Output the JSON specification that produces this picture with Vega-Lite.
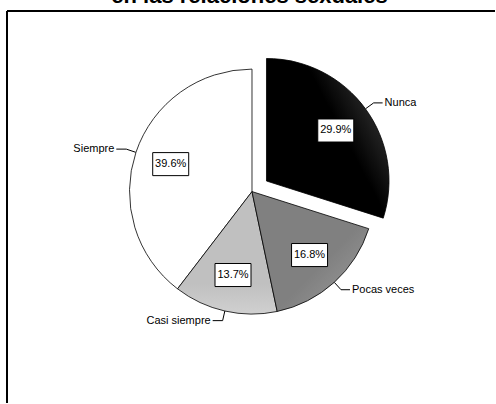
{
  "$schema": "https://vega.github.io/schema/vega-lite/v6.json",
  "width": 496,
  "height": 404,
  "autosize": {"type": "fit", "contains": "padding"},
  "padding": {"left": 6, "top": -15, "right": 0, "bottom": 0},
  "background": "white",
  "config": {"view": {"stroke": null}, "font": "Liberation Sans"},
  "title": {"text": "en las relaciones sexuales", "font": "Liberation Sans", "fontSize": 22, "fontWeight": "bold", "color": "black", "anchor": "middle", "frame": "group", "baseline": "alphabetic", "offset": -15, "dx": -1.5},
  "data": {"values": [
    {"category": "Nunca", "value": 29.9, "order": 1},
    {"category": "Pocas veces", "value": 16.8, "order": 2},
    {"category": "Casi siempre", "value": 13.7, "order": 3},
    {"category": "Siempre", "value": 39.6, "order": 4}
  ]},
  "transform": [
    {"stack": "value", "groupby": [], "sort": [{"field": "order", "order": "ascending"}], "as": ["t0", "t1"]},
    {"calculate": "(datum.t0+datum.t1)*PI/100", "as": "mid"},
    {"calculate": "sin(datum.mid)", "as": "sx"},
    {"calculate": "cos(datum.mid)", "as": "cy"},
    {"calculate": "datum.category==='Nunca'?18:0", "as": "ex"},
    {"calculate": "datum.ex*datum.sx", "as": "ox"},
    {"calculate": "datum.ex*datum.cy", "as": "oy"},
    {"calculate": "datum.ox+86*datum.sx", "as": "bx"},
    {"calculate": "datum.oy+86*datum.cy", "as": "by"},
    {"calculate": "datum.ox+123*datum.sx", "as": "p0x"},
    {"calculate": "datum.oy+123*datum.cy", "as": "p0y"},
    {"calculate": "datum.ox+133*datum.sx", "as": "p1x"},
    {"calculate": "datum.oy+133*datum.cy", "as": "p1y"},
    {"calculate": "datum.p1x+(datum.sx>0?9:-10)", "as": "p2x"},
    {"calculate": "datum.p2x+(datum.sx>0?2:-2)", "as": "tx"},
    {"calculate": "format(datum.value,'.1f')+'%'", "as": "pct"}
  ],
  "layer": [
    {
      "mark": {"type": "rule", "color": "black", "strokeWidth": 2},
      "encoding": {
        "x": {"datum": -245.5, "type": "quantitative", "scale": {"domain": [-245.5, 243.5], "nice": false, "zero": false}, "axis": null},
        "x2": {"datum": 243.5},
        "y": {"datum": 181.5, "type": "quantitative", "scale": {"domain": [-212.5, 181.5], "nice": false, "zero": false}, "axis": null}
      }
    },
    {
      "mark": {"type": "rule", "color": "black", "strokeWidth": 2},
      "encoding": {
        "x": {"datum": -245.5, "type": "quantitative"},
        "y": {"datum": -212.5, "type": "quantitative"},
        "y2": {"datum": 181.5}
      }
    },
    {
      "transform": [{"filter": "datum.category==='Siempre'"}],
      "mark": {"type": "arc", "radius": 122.5, "stroke": "black", "strokeWidth": 0.8, "fill": "#ffffff"},
      "encoding": {
        "theta": {"field": "t0", "type": "quantitative", "scale": {"domain": [0, 100]}},
        "theta2": {"field": "t1"},
        "x": {"field": "ox", "type": "quantitative"},
        "y": {"field": "oy", "type": "quantitative"}
      }
    },
    {
      "transform": [{"filter": "datum.category==='Casi siempre'"}],
      "mark": {"type": "arc", "radius": 122.5, "stroke": "black", "strokeWidth": 0.8,
        "fill": {"gradient": "linear", "x1": 0.5, "y1": 0, "x2": 0.5, "y2": 1, "stops": [{"offset": 0, "color": "#c0c0c0"}, {"offset": 0.75, "color": "#c0c0c0"}, {"offset": 1, "color": "#d0d0d0"}]}},
      "encoding": {
        "theta": {"field": "t0", "type": "quantitative"},
        "theta2": {"field": "t1"},
        "x": {"field": "ox", "type": "quantitative"},
        "y": {"field": "oy", "type": "quantitative"}
      }
    },
    {
      "transform": [{"filter": "datum.category==='Pocas veces'"}],
      "mark": {"type": "arc", "radius": 122.5, "stroke": "black", "strokeWidth": 0.8,
        "fill": {"gradient": "linear", "x1": 0, "y1": 0, "x2": 1, "y2": 1, "stops": [{"offset": 0, "color": "#808080"}, {"offset": 0.6, "color": "#808080"}, {"offset": 1, "color": "#a0a0a0"}]}},
      "encoding": {
        "theta": {"field": "t0", "type": "quantitative"},
        "theta2": {"field": "t1"},
        "x": {"field": "ox", "type": "quantitative"},
        "y": {"field": "oy", "type": "quantitative"}
      }
    },
    {
      "transform": [{"filter": "datum.category==='Nunca'"}],
      "mark": {"type": "arc", "radius": 122.5, "stroke": "#000000", "strokeWidth": 0.8,
        "fill": {"gradient": "linear", "x1": 0.2, "y1": 0.8, "x2": 1, "y2": 0.25, "stops": [{"offset": 0, "color": "#000000"}, {"offset": 0.55, "color": "#000000"}, {"offset": 1, "color": "#3a3a3a"}]}},
      "encoding": {
        "theta": {"field": "t0", "type": "quantitative"},
        "theta2": {"field": "t1"},
        "x": {"field": "ox", "type": "quantitative"},
        "y": {"field": "oy", "type": "quantitative"}
      }
    },
    {
      "mark": {"type": "rule", "color": "black", "strokeWidth": 1},
      "encoding": {
        "x": {"field": "p0x", "type": "quantitative"},
        "y": {"field": "p0y", "type": "quantitative"},
        "x2": {"field": "p1x"},
        "y2": {"field": "p1y"}
      }
    },
    {
      "mark": {"type": "rule", "color": "black", "strokeWidth": 1},
      "encoding": {
        "x": {"field": "p1x", "type": "quantitative"},
        "y": {"field": "p1y", "type": "quantitative"},
        "x2": {"field": "p2x"},
        "y2": {"field": "p1y"}
      }
    },
    {
      "transform": [{"filter": "datum.sx>0"}],
      "mark": {"type": "text", "align": "left", "baseline": "middle", "fontSize": 11, "font": "Liberation Sans", "color": "black"},
      "encoding": {
        "x": {"field": "tx", "type": "quantitative"},
        "y": {"field": "p1y", "type": "quantitative"},
        "text": {"field": "category"}
      }
    },
    {
      "transform": [{"filter": "datum.sx<=0"}],
      "mark": {"type": "text", "align": "right", "baseline": "middle", "fontSize": 11, "font": "Liberation Sans", "color": "black"},
      "encoding": {
        "x": {"field": "tx", "type": "quantitative"},
        "y": {"field": "p1y", "type": "quantitative"},
        "text": {"field": "category"}
      }
    },
    {
      "mark": {"type": "point", "shape": "M-1,-0.64L1,-0.64L1,0.64L-1,0.64Z", "size": 1296, "filled": true, "fill": "white", "stroke": "black", "strokeWidth": 1, "opacity": 1},
      "encoding": {
        "x": {"field": "bx", "type": "quantitative"},
        "y": {"field": "by", "type": "quantitative"}
      }
    },
    {
      "mark": {"type": "text", "align": "center", "baseline": "middle", "fontSize": 11, "font": "Liberation Sans", "color": "black"},
      "encoding": {
        "x": {"field": "bx", "type": "quantitative"},
        "y": {"field": "by", "type": "quantitative"},
        "text": {"field": "pct"}
      }
    }
  ]
}
